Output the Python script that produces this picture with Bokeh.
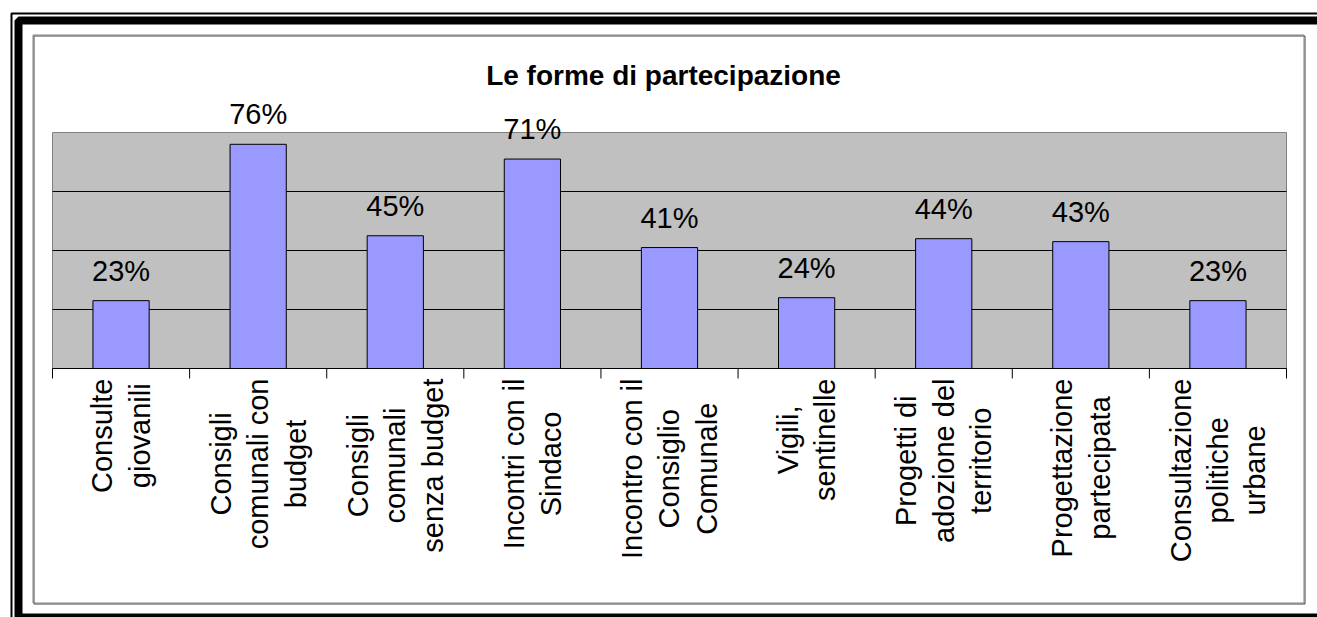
from math import pi

from bokeh.core.properties import value
from bokeh.embed import file_html
from bokeh.models import BoxAnnotation, ColumnDataSource, Label, LabelSet, Range1d
from bokeh.plotting import figure
from bokeh.resources import INLINE

# Survey data: share of municipalities using each form of participation
categories = [
    "Consulte\ngiovanili",
    "Consigli\ncomunali con\nbudget",
    "Consigli\ncomunali\nsenza budget",
    "Incontri con il\nSindaco",
    "Incontro con il\nConsiglio\nComunale",
    "Vigili,\nsentinelle",
    "Progetti di\nadozione del\nterritorio",
    "Progettazione\npartecipata",
    "Consultazione\npolitiche\nurbane",
]
values = [23, 76, 45, 71, 41, 24, 44, 43, 23]
gridlines = [20, 40, 60]
y_max = 80
title_text = "Le forme di partecipazione"

FONT = "Liberation Sans"
W, H = 1317, 617

# pixel box of the grey plotting area inside the page
PA_LEFT, PA_RIGHT, PA_TOP, PA_BOTTOM = 52, 1286, 132, 368
n = len(categories)
px_per_cat = (PA_RIGHT - PA_LEFT) / n
px_per_unit = (PA_BOTTOM - PA_TOP) / y_max


def dx(px):
    """page x pixel -> data x"""
    return (px - PA_LEFT) / px_per_cat


def dy(py):
    """page y pixel (from top) -> data y"""
    return (PA_BOTTOM - py) / px_per_unit


xs = [i + 0.5 for i in range(n)]
source = ColumnDataSource(dict(
    x=xs,
    v=values,
    lbl=[f"{v}%" for v in values],
))

p = figure(
    width=W, height=H,
    x_range=Range1d(dx(0), dx(W)), y_range=Range1d(dy(H), dy(0)),
    output_backend="svg", toolbar_location=None,
    x_axis_location=None, y_axis_location=None,
    min_border=0, min_border_left=0, min_border_right=0,
    min_border_top=0, min_border_bottom=0,
    background_fill_color="white", border_fill_color="white",
    outline_line_color=None,
)
p.grid.visible = False

# grey plotting area
p.quad(left=[0], right=[n], bottom=[0], top=[y_max],
       fill_color="#C0C0C0", line_color="#808080", line_width=1)

# horizontal gridlines
p.segment(x0=[0] * len(gridlines), x1=[n] * len(gridlines),
          y0=gridlines, y1=gridlines, line_color="black", line_width=1)

p.vbar(x="x", top="v", bottom=0, width=0.41, source=source,
       fill_color="#9999FF", line_color="black", line_width=1)

# category axis line and boundary ticks
tick_len = 10 / px_per_unit
p.segment(x0=[0], x1=[n], y0=[0], y1=[0], line_color="black", line_width=1)
p.segment(x0=list(range(n + 1)), x1=list(range(n + 1)),
          y0=[0] * (n + 1), y1=[-tick_len] * (n + 1),
          line_color="black", line_width=1)

p.add_layout(LabelSet(
    x="x", y="v", text="lbl", source=source,
    y_offset=20, text_align="center", text_baseline="alphabetic",
    text_font=value(FONT), text_font_size="29px", text_color="black",
))

# rotated, centred category names under the axis
for x, cat in zip(xs, categories):
    p.add_layout(Label(
        x=x, y=dy(378),
        text=cat, angle=pi / 2, anchor="center_right", text_align="center",
        text_font=FONT, text_font_size="29px", text_line_height=1.17,
        text_color="black",
    ))

p.add_layout(Label(
    x=dx(663), y=dy(75),
    text=title_text, text_align="center", text_baseline="alphabetic",
    text_font=FONT, text_font_size="28px", text_font_style="bold",
    text_color="black",
))


# decorative frame around the chart area
def frame(left, top, right, bottom, color, width):
    p.add_layout(BoxAnnotation(
        left=dx(left), top=dy(top), right=dx(right), bottom=dy(bottom),
        fill_color=None, fill_alpha=0,
        line_color=color, line_width=width, line_alpha=1,
    ))


frame(11, 13, W + 40, H + 40, "black", 2)
frame(18, 20, W + 40, 617, "black", 8)
frame(33.5, 35.5, 1304.5, 603.5, "#404040", 1)
frame(32.5, 34.5, 1303.5, 602.5, "#808080", 1)

open("out.html", "w").write(file_html(p, INLINE))
